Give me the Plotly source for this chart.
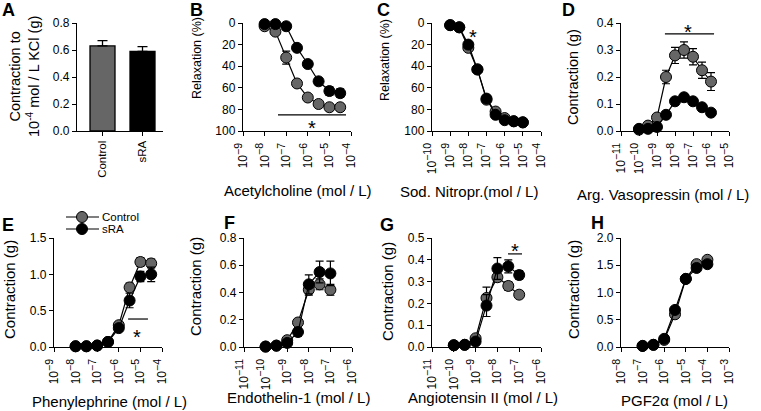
import numpy as np
import plotly.graph_objects as go

W, H = 761, 411
FONT = "Arial, Liberation Sans, sans-serif"
GREY = "#666666"

# ---------------- data ----------------
# A: contraction to KCl
bar_labels = ["Control", "sRA"]
bar_values = [0.63, 0.59]
bar_errors = [0.04, 0.035]

# B: acetylcholine (relaxation %)
ach_logconc = [-8, -7.5, -7, -6.5, -6, -5.5, -5, -4.5]
ach_control = [3, 8, 32, 56, 69, 75, 78, 78]
ach_control_err = [1, 2, 6, 3, 2, 2, 2, 3]
ach_sra = [1, 1, 3, 23, 38, 54, 63, 65]
ach_sra_err = [1, 1, 2, 3, 3, 3, 4, 4]

# C: sodium nitroprusside (relaxation %)
snp_logconc = [-9, -8.5, -8, -7.5, -7, -6.5, -6, -5.5, -5]
snp_control = [2, 4, 23, 43, 71, 82, 88, 91, 92]
snp_control_err = [1, 1, 2, 2, 3, 2, 2, 2, 2]
snp_sra = [2, 4, 20, 43, 70, 85, 90, 91, 92]
snp_sra_err = [1, 1, 2, 2, 3, 2, 2, 2, 2]

# D: arginine vasopressin (g)
avp_logconc = [-10, -9.5, -9, -8.5, -8, -7.5, -7, -6.5, -6]
avp_control = [0.005, 0.02, 0.05, 0.20, 0.28, 0.30, 0.275, 0.225, 0.183]
avp_control_err = [0.005, 0.01, 0.01, 0.025, 0.03, 0.03, 0.03, 0.03, 0.033]
avp_sra = [0.008, 0.008, 0.015, 0.06, 0.11, 0.125, 0.11, 0.088, 0.068]
avp_sra_err = [0.005, 0.005, 0.005, 0.008, 0.01, 0.01, 0.01, 0.01, 0.008]

# E: phenylephrine (g)
phe_logconc = [-8, -7.5, -7, -6.5, -6, -5.5, -5, -4.5]
phe_control = [0.01, 0.01, 0.02, 0.07, 0.30, 0.82, 1.17, 1.15]
phe_control_err = [0.01, 0.01, 0.01, 0.02, 0.04, 0.06, 0.06, 0.06]
phe_sra = [0.01, 0.01, 0.02, 0.07, 0.26, 0.64, 0.97, 1.00]
phe_sra_err = [0.01, 0.01, 0.01, 0.02, 0.04, 0.10, 0.07, 0.10]

# F: endothelin-1 (g)
et_logconc = [-10, -9.5, -9, -8.5, -8, -7.5, -7]
et_control = [0.003, 0.01, 0.05, 0.18, 0.42, 0.46, 0.42]
et_control_err = [0.003, 0.005, 0.01, 0.02, 0.04, 0.04, 0.04]
et_sra = [0.003, 0.01, 0.03, 0.11, 0.46, 0.55, 0.54]
et_sra_err = [0.003, 0.005, 0.01, 0.03, 0.07, 0.08, 0.09]

# G: angiotensin II (g)
ang_logconc = [-10, -9.5, -9, -8.5, -8, -7.5, -7]
ang_control = [0.008, 0.01, 0.04, 0.225, 0.32, 0.28, 0.24]
ang_control_err = [0.003, 0.003, 0.01, 0.05, 0.02, 0.02, 0.015]
ang_sra = [0.008, 0.01, 0.025, 0.19, 0.36, 0.37, 0.33]
ang_sra_err = [0.003, 0.003, 0.01, 0.05, 0.05, 0.03, 0.02]

# H: PGF2alpha (g)
pgf_logconc = [-7, -6.5, -6, -5.5, -5, -4.5, -4]
pgf_control = [0.02, 0.04, 0.13, 0.60, 1.25, 1.52, 1.60]
pgf_control_err = [0.01, 0.01, 0.03, 0.06, 0.06, 0.06, 0.06]
pgf_sra = [0.02, 0.04, 0.15, 0.68, 1.25, 1.45, 1.52]
pgf_sra_err = [0.01, 0.01, 0.03, 0.06, 0.06, 0.06, 0.06]

# significance bars: (log x start, log x end, y), asterisk (log x, y)
sig_B = (-7.38, -4.23, 85)
star_B = (-5.81, 93)
star_C = (-7.75, 8)
sig_D = (-8.56, -5.83, 0.36)
star_D = (-7.28, 0.385)
sig_E = (-5.57, -4.65, 0.385)
star_E = (-5.16, 0.2)
sig_G = (-7.51, -6.87, 0.427)
star_G = (-7.19, 0.465)

# ---------------- layout helpers ----------------
def xd(a, b):
    return [a / W, b / W]

def yd(top, bottom):
    return [1 - bottom / H, 1 - top / H]

fig = go.Figure()
layout = dict(
    width=W, height=H, margin=dict(l=0, r=0, t=0, b=0, pad=0, autoexpand=False),
    paper_bgcolor="white", plot_bgcolor="rgba(0,0,0,0)", showlegend=False,
    font=dict(family=FONT, color="black", size=11),
)
annotations = []

AX_COMMON = dict(showline=True, linecolor="black", linewidth=1.4, ticks="outside",
                 ticklen=4, tickwidth=1.4, tickcolor="black", showgrid=False,
                 zeroline=False, mirror=False, automargin=False,
                 tickfont=dict(family=FONT, size=12, color="black"))

panels = [
    dict(n=2, xpx=(243, 351), ypx=(23, 131), xr=(-9, -4), yr=(100, 0), dt=20, fmt="d",
         xt="Acetylcholine (mol / L)", xtp=(298, 190), xs=15,
         yt="Relaxation (%)", ytp=(197, 58), ys=12.5, L="B", Lp=(196, 10),
         x=ach_logconc, c=ach_control, ce=ach_control_err, s=ach_sra, se=ach_sra_err),
    dict(n=3, xpx=(432, 541), ypx=(23, 131), xr=(-10, -4), yr=(100, 0), dt=20, fmt="d",
         xt="Sod. Nitropr.(mol / L)", xtp=(469, 191), xs=15,
         yt="Relaxation (%)", ytp=(385, 60), ys=12.5, L="C", Lp=(383, 10),
         x=snp_logconc, c=snp_control, ce=snp_control_err, s=snp_sra, se=snp_sra_err),
    dict(n=4, xpx=(621, 729), ypx=(23, 131), xr=(-11, -5), yr=(0, 0.4), dt=0.1, fmt=".1f",
         xt="Arg. Vasopressin (mol / L)", xtp=(663, 194), xs=15,
         yt="Contraction (g)", ytp=(573, 77), ys=14.5, L="D", Lp=(568, 10),
         x=avp_logconc, c=avp_control, ce=avp_control_err, s=avp_sra, se=avp_sra_err),
    dict(n=5, xpx=(54, 162), ypx=(238, 347), xr=(-9, -4), yr=(0, 1.5), dt=0.5, fmt=".1f",
         xt="Phenylephrine (mol / L)", xtp=(109, 401), xs=15,
         yt="Contraction (g)", ytp=(9, 290), ys=15, L="E", Lp=(8, 225),
         x=phe_logconc, c=phe_control, ce=phe_control_err, s=phe_sra, se=phe_sra_err),
    dict(n=6, xpx=(244, 352), ypx=(238, 347), xr=(-11, -6), yr=(0, 0.8), dt=0.2, fmt=".1f",
         xt="Endothelin-1 (mol / L)", xtp=(298, 397), xs=15,
         yt="Contraction (g)", ytp=(195, 287), ys=15, L="F", Lp=(229, 223),
         x=et_logconc, c=et_control, ce=et_control_err, s=et_sra, se=et_sra_err),
    dict(n=7, xpx=(432, 541), ypx=(238, 347), xr=(-11, -6), yr=(0, 0.5), dt=0.1, fmt=".1f",
         xt="Angiotensin II (mol / L)", xtp=(483, 397), xs=15,
         yt="Contraction (g)", ytp=(387, 292), ys=15, L="G", Lp=(387, 225),
         x=ang_logconc, c=ang_control, ce=ang_control_err, s=ang_sra, se=ang_sra_err),
    dict(n=8, xpx=(621, 729), ypx=(238, 347), xr=(-8, -3), yr=(0, 2.0), dt=0.5, fmt=".1f",
         xt="PGF2α (mol / L)", xtp=(674, 400), xs=15,
         yt="Contraction (g)", ytp=(573, 290), ys=15, L="H", Lp=(597, 223),
         x=pgf_logconc, c=pgf_control, ce=pgf_control_err, s=pgf_sra, se=pgf_sra_err),
]


def paper_annot(text, px, py, size, angle=0, bold=False):
    if bold:
        text = "<b>" + text + "</b>"
    annotations.append(dict(text=text, x=px / W, y=1 - py / H, xref="paper", yref="paper",
                            xanchor="center", yanchor="middle", showarrow=False,
                            textangle=angle, font=dict(family=FONT, size=size, color="black")))

# ---------------- panel A (bars) ----------------
layout["xaxis"] = dict(AX_COMMON, domain=xd(77, 163), range=[0.3625, 2.5125],
                       tickvals=[1, 2], ticktext=bar_labels, tickangle=-90, anchor="y",
                       tickfont=dict(family=FONT, size=11.5, color="black"))
layout["yaxis"] = dict(AX_COMMON, domain=yd(23, 131), range=[0, 0.8], dtick=0.2,
                       tickformat=".1f", anchor="x")
fig.add_trace(go.Bar(x=[1, 2], y=bar_values, width=0.625, xaxis="x", yaxis="y",
                     marker=dict(color=[GREY, "black"], line=dict(color="black", width=1.3)),
                     error_y=dict(type="data", symmetric=False, array=bar_errors,
                                  arrayminus=[0, 0], color="black", thickness=1.3, width=5)))
paper_annot("Contraction to<br>10<sup>-4</sup> mol / L KCl (g)", 24, 77, 14.5, angle=-90)
paper_annot("A", 8, 10, 18, bold=True)

# ---------------- dose-response panels ----------------
for p in panels:
    n = p["n"]
    xa, ya = f"x{n}", f"y{n}"
    lo, hi = p["xr"]
    tickvals = [10.0 ** k for k in range(lo, hi + 1)]
    ticktext = [f"10<sup><span style='font-size:10.5px'>\u2212{abs(k)}</span></sup>"
                for k in range(lo, hi + 1)]
    layout[f"xaxis{n}"] = dict(AX_COMMON, type="log", domain=xd(*p["xpx"]), range=[lo, hi],
                               tickvals=tickvals, ticktext=ticktext, tickangle=-90, anchor=ya,
                               ticklabelstandoff=2,
                               tickfont=dict(family=FONT, size=12, color="black"))
    y0, y1 = p["yr"]
    layout[f"yaxis{n}"] = dict(AX_COMMON, domain=yd(*p["ypx"]), range=[y0, y1],
                               tick0=0, dtick=p["dt"], tickformat=p["fmt"], anchor=xa)
    xs = 10.0 ** np.array(p["x"])
    for vals, errs, col in ((p["c"], p["ce"], GREY), (p["s"], p["se"], "black")):
        fig.add_trace(go.Scatter(
            x=xs, y=vals, xaxis=xa, yaxis=ya, mode="lines+markers", cliponaxis=False,
            line=dict(color="black", width=1.2),
            marker=dict(size=11, color=col, line=dict(color="black", width=1)),
            error_y=dict(type="data", array=errs, color="black", thickness=1.2, width=4)))
    paper_annot(p["xt"], p["xtp"][0], p["xtp"][1], p["xs"])
    paper_annot(p["yt"], p["ytp"][0], p["ytp"][1], p["ys"], angle=-90)
    paper_annot(p["L"], p["Lp"][0], p["Lp"][1], 18, bold=True)

# ---------------- significance markers ----------------
def sig_line(n, sig):
    fig.add_trace(go.Scatter(x=[10.0 ** sig[0], 10.0 ** sig[1]], y=[sig[2], sig[2]],
                             xaxis=f"x{n}", yaxis=f"y{n}", mode="lines", cliponaxis=False,
                             line=dict(color="black", width=1.2), hoverinfo="skip"))

def star(n, st):
    annotations.append(dict(text="*", x=st[0], y=st[1], xref=f"x{n}", yref=f"y{n}",
                            showarrow=False, yshift=-5, xanchor="center", yanchor="middle",
                            font=dict(family=FONT, size=20, color="black")))

sig_line(2, sig_B); star(2, star_B)
star(3, star_C)
sig_line(4, sig_D); star(4, star_D)
sig_line(5, sig_E); star(5, star_E)
sig_line(7, sig_G); star(7, star_G)

# ---------------- legend (panel E) ----------------
layout["xaxis9"] = dict(domain=[0, 1], range=[0, W], visible=False, fixedrange=True, anchor="y9")
layout["yaxis9"] = dict(domain=[0, 1], range=[H, 0], visible=False, fixedrange=True, anchor="x9")
legend_items = [("Control", GREY, 217), ("sRA", "black", 229)]
for name, col, ly in legend_items:
    fig.add_trace(go.Scatter(x=[66, 99], y=[ly, ly], xaxis="x9", yaxis="y9", mode="lines",
                             line=dict(color="black", width=1.2), hoverinfo="skip"))
    fig.add_trace(go.Scatter(x=[82], y=[ly], xaxis="x9", yaxis="y9", mode="markers",
                             marker=dict(size=11, color=col, line=dict(color="black", width=1)),
                             hoverinfo="skip"))
    annotations.append(dict(text=name, x=101 / W, y=1 - ly / H, xref="paper", yref="paper",
                            xanchor="left", yanchor="middle", showarrow=False, borderpad=0,
                            font=dict(family=FONT, size=11.5, color="black")))

layout["annotations"] = annotations
fig.update_layout(**layout)
fig.write_html("out.html", config={"displayModeBar": False},
               post_script="document.body.style.margin='0';document.body.style.padding='0';")
